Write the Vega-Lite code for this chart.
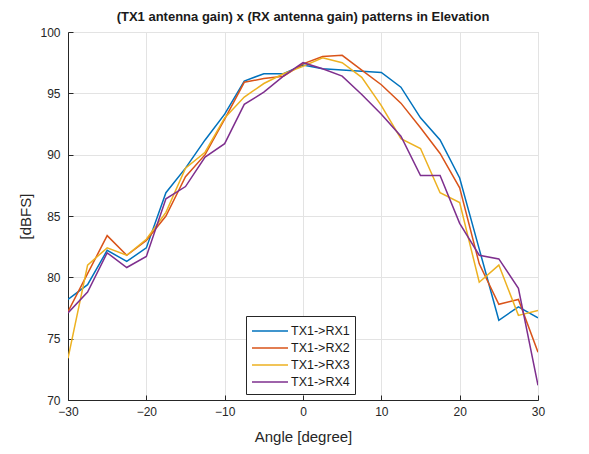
{
  "$schema": "https://vega.github.io/schema/vega-lite/v6.json",
  "width": 470,
  "height": 368,
  "autosize": {"type": "none"},
  "padding": {"left": 68, "top": 32, "right": 51, "bottom": 54},
  "background": "white",
  "title": {
    "text": "(TX1 antenna gain) x (RX antenna gain) patterns in Elevation",
    "font": "Liberation Sans",
    "fontSize": 13,
    "fontWeight": "bold",
    "color": "#1a1a1a",
    "anchor": "middle",
    "offset": 2
  },
  "data": {
    "values": [
      {"angle": -30, "RX1": 78.2, "RX2": 77.2, "RX3": 73.4, "RX4": 77.1},
      {"angle": -27.5, "RX1": 79.4, "RX2": 80.3, "RX3": 81.0, "RX4": 78.8},
      {"angle": -25, "RX1": 82.2, "RX2": 83.4, "RX3": 82.4, "RX4": 82.0},
      {"angle": -22.5, "RX1": 81.3, "RX2": 81.8, "RX3": 81.8, "RX4": 80.8},
      {"angle": -20, "RX1": 82.4, "RX2": 83.0, "RX3": 83.1, "RX4": 81.7},
      {"angle": -17.5, "RX1": 86.9, "RX2": 85.0, "RX3": 85.3, "RX4": 86.4},
      {"angle": -15, "RX1": 88.9, "RX2": 88.2, "RX3": 88.9, "RX4": 87.4},
      {"angle": -12.5, "RX1": 91.2, "RX2": 90.0, "RX3": 90.2, "RX4": 89.8},
      {"angle": -10, "RX1": 93.3, "RX2": 92.9, "RX3": 93.0, "RX4": 90.9},
      {"angle": -7.5, "RX1": 96.0, "RX2": 95.9, "RX3": 94.7, "RX4": 94.1},
      {"angle": -5, "RX1": 96.6, "RX2": 96.2, "RX3": 95.8, "RX4": 95.1},
      {"angle": -2.5, "RX1": 96.6, "RX2": 96.4, "RX3": 96.6, "RX4": 96.4},
      {"angle": 0, "RX1": 97.3, "RX2": 97.4, "RX3": 97.2, "RX4": 97.5},
      {"angle": 2.5, "RX1": 97.0, "RX2": 98.0, "RX3": 97.9, "RX4": 97.0},
      {"angle": 5, "RX1": 96.9, "RX2": 98.1, "RX3": 97.5, "RX4": 96.4},
      {"angle": 7.5, "RX1": 96.8, "RX2": 96.9, "RX3": 96.3, "RX4": 94.9},
      {"angle": 10, "RX1": 96.7, "RX2": 95.7, "RX3": 94.0, "RX4": 93.3},
      {"angle": 12.5, "RX1": 95.5, "RX2": 94.2, "RX3": 91.3, "RX4": 91.5},
      {"angle": 15, "RX1": 93.0, "RX2": 92.2, "RX3": 90.5, "RX4": 88.3},
      {"angle": 17.5, "RX1": 91.2, "RX2": 90.1, "RX3": 86.9, "RX4": 88.3},
      {"angle": 20, "RX1": 88.1, "RX2": 87.3, "RX3": 86.1, "RX4": 84.4},
      {"angle": 22.5, "RX1": 82.3, "RX2": 81.1, "RX3": 79.6, "RX4": 81.8},
      {"angle": 25, "RX1": 76.5, "RX2": 77.8, "RX3": 81.0, "RX4": 81.5},
      {"angle": 27.5, "RX1": 77.6, "RX2": 78.2, "RX3": 76.9, "RX4": 79.1},
      {"angle": 30, "RX1": 76.7, "RX2": 73.9, "RX3": 77.3, "RX4": 71.2}
    ]
  },
  "transform": [
    {"fold": ["RX1", "RX2", "RX3", "RX4"], "as": ["rx", "value"]},
    {"lookup": "rx", "from": {"data": {"values": [
      {"rx": "RX1", "series": "TX1->RX1"},
      {"rx": "RX2", "series": "TX1->RX2"},
      {"rx": "RX3", "series": "TX1->RX3"},
      {"rx": "RX4", "series": "TX1->RX4"}
    ]}, "key": "rx", "fields": ["series"]}}
  ],
  "mark": {"type": "line", "strokeWidth": 1.5, "clip": true},
  "encoding": {
    "x": {
      "field": "angle",
      "type": "quantitative",
      "scale": {"domain": [-30, 30], "nice": false},
      "axis": {
        "title": "Angle [degree]",
        "values": [-30, -20, -10, 0, 10, 20, 30],
        "labelFlush": false,
        "labelPadding": 11,
        "titlePadding": 12
      }
    },
    "y": {
      "field": "value",
      "type": "quantitative",
      "scale": {"domain": [70, 100], "nice": false, "zero": false},
      "axis": {
        "title": "[dBFS]",
        "values": [70, 75, 80, 85, 90, 95, 100],
        "labelFlush": false,
        "labelPadding": 13,
        "titlePadding": 6
      }
    },
    "color": {
      "field": "series",
      "type": "nominal",
      "scale": {
        "domain": ["TX1->RX1", "TX1->RX2", "TX1->RX3", "TX1->RX4"],
        "range": ["#0072BD", "#D95319", "#EDB120", "#7E2F8E"]
      },
      "legend": {
        "title": null,
        "orient": "none",
        "legendX": 178,
        "legendY": 284,
        "symbolType": "M-1,0H3",
        "symbolSize": 324,
        "symbolStrokeWidth": 1.5,
        "labelFont": "Liberation Sans",
        "labelFontSize": 12.5,
        "labelColor": "#1a1a1a",
        "labelOffset": 20,
        "rowPadding": 0,
        "padding": 5,
        "strokeColor": "#262626",
        "fillColor": "white",
        "cornerRadius": 0
      }
    }
  },
  "config": {
    "view": {"stroke": "#cccccc", "strokeWidth": 1},
    "axis": {
      "labelFont": "Liberation Sans",
      "titleFont": "Liberation Sans",
      "labelFontSize": 12,
      "titleFontSize": 15,
      "titleFontWeight": "normal",
      "labelColor": "#262626",
      "titleColor": "#262626",
      "domainColor": "#262626",
      "tickColor": "#262626",
      "tickSize": -5,
      "gridColor": "#e3e3e3",
      "gridWidth": 1
    }
  }
}
